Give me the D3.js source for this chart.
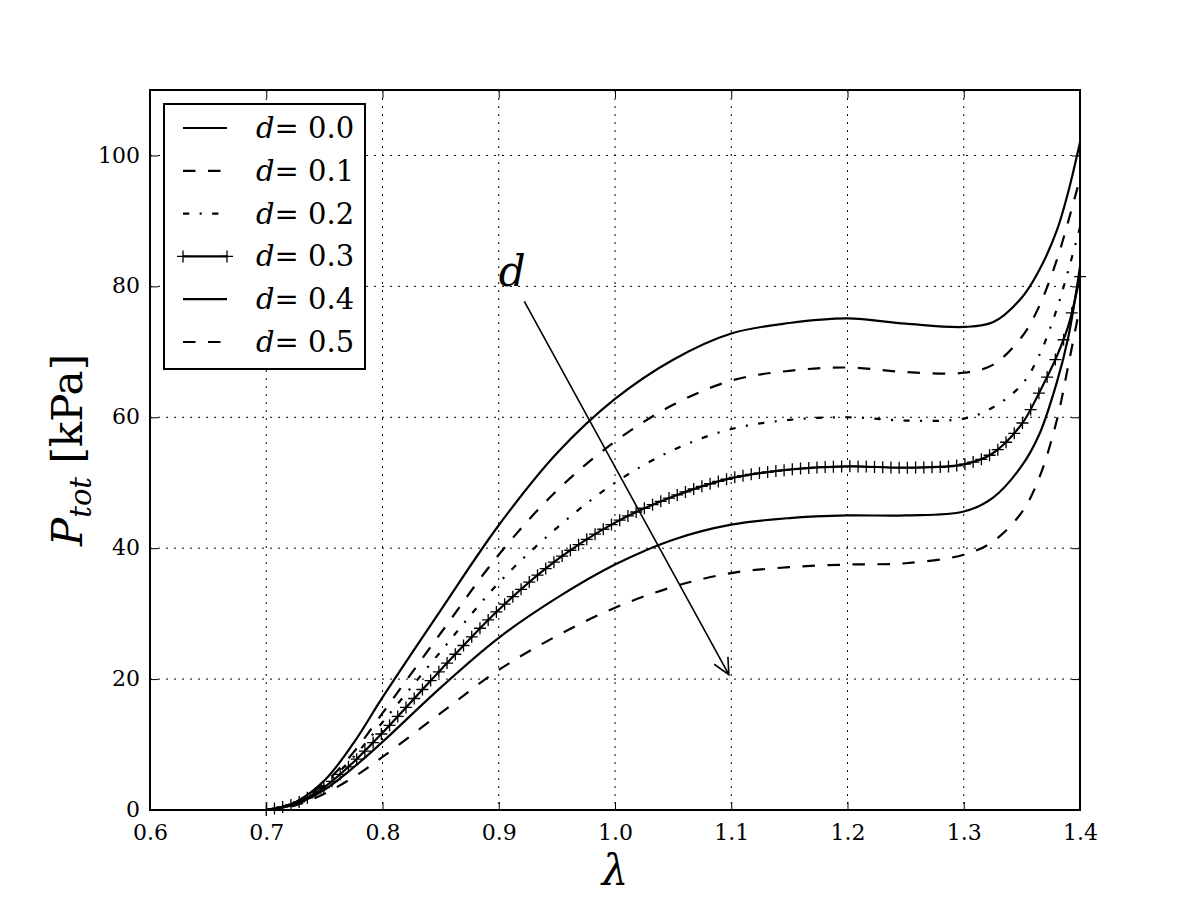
<!DOCTYPE html>
<html>
<head>
<meta charset="utf-8">
<script src="https://cdn.jsdelivr.net/npm/d3@7"></script>
<style>
  body { margin: 0; background: #fff; }
  text { font-family: "DejaVu Serif", "Liberation Serif", serif; fill: #000; }
</style>
</head>
<body>
<svg id="sg"></svg>
<script>
const lambdas = [0.70, 0.725, 0.75, 0.775, 0.80, 0.85, 0.90, 0.95, 1.00, 1.05, 1.10,
  1.15, 1.20, 1.25, 1.30, 1.325, 1.35, 1.365, 1.38, 1.39, 1.40];

// total pressure [kPa] for each damage value d
const pD00 = [0, 1.2, 4.5, 10.2, 17.2, 30.5, 43.5, 54.5, 62.8, 68.8, 72.8,
  74.4, 75.1, 74.3, 73.8, 74.5, 78.3, 82.5, 88.5, 94.5, 102.0];
const pD01 = [0, 1.1, 4.1, 8.8, 14.8, 27.0, 39.0, 48.8, 56.3, 61.9, 65.6,
  67.1, 67.6, 66.9, 66.8, 68.0, 72.3, 77.0, 84.0, 90.0, 96.5];
const pD02 = [0, 1.0, 3.8, 8.1, 13.4, 24.2, 34.7, 43.1, 50.0, 55.0, 58.2,
  59.6, 60.0, 59.5, 59.8, 61.5, 65.0, 69.5, 76.5, 82.5, 89.0];
const pD03 = [0, 1.0, 3.5, 7.3, 11.8, 21.4, 30.6, 38.2, 43.9, 47.9, 50.7,
  52.0, 52.5, 52.3, 52.8, 54.5, 59.0, 63.8, 69.3, 74.0, 81.5];
const pD04 = [0, 0.9, 3.1, 6.5, 10.4, 18.7, 26.3, 32.4, 37.5, 41.3, 43.6,
  44.6, 45.0, 45.0, 45.6, 47.7, 52.6, 57.4, 65.3, 72.3, 83.0];
const pD05 = [0, 0.7, 2.5, 5.0, 8.1, 14.8, 21.4, 26.6, 30.9, 34.1, 36.2,
  37.1, 37.5, 37.7, 39.0, 41.0, 45.5, 50.8, 59.5, 68.0, 77.0];

const dLabels = ["0.0", "0.1", "0.2", "0.3", "0.4", "0.5"];
const xTicks = [0.6, 0.7, 0.8, 0.9, 1.0, 1.1, 1.2, 1.3, 1.4];
const yTicks = [0, 20, 40, 60, 80, 100];

// annotation "d" with arrow
const annText = [0.9, 80];
const arrowFrom = [0.922, 77.7];
const arrowTo = [1.1, 20];

const series = [
  { label: dLabels[0], values: pD00, dash: null, marker: false },
  { label: dLabels[1], values: pD01, dash: "12.5,12.5", marker: false },
  { label: dLabels[2], values: pD02, dash: "6.25,10.4,2.1,10.4", marker: false },
  { label: dLabels[3], values: pD03, dash: null, marker: true },
  { label: dLabels[4], values: pD04, dash: null, marker: false },
  { label: dLabels[5], values: pD05, dash: "12.5,12.5", marker: false }
];

let svgWidth = 1200, svgHeight = 900;
let margin = { top: 90, right: 120, bottom: 90, left: 150 };
let width = svgWidth - margin.left - margin.right;
let height = svgHeight - margin.top - margin.bottom;

let svg = d3.select("#sg").attr("width", svgWidth).attr("height", svgHeight);
let g = svg.append("g")
  .attr("transform", "translate(" + margin.left + "," + margin.top + ")");

let x = d3.scaleLinear().domain([0.6, 1.4]).range([0, width]);
let y = d3.scaleLinear().domain([0, 110]).range([height, 0]);

// dotted grid
g.append("g").selectAll("line").data(xTicks.slice(1, -1)).join("line")
  .attr("x1", d => x(d)).attr("x2", d => x(d))
  .attr("y1", 0).attr("y2", height)
  .attr("stroke", "#000").attr("stroke-width", 1).attr("stroke-dasharray", "2,6");
g.append("g").selectAll("line").data(yTicks.slice(1)).join("line")
  .attr("y1", d => y(d)).attr("y2", d => y(d))
  .attr("x1", 0).attr("x2", width)
  .attr("stroke", "#000").attr("stroke-width", 1).attr("stroke-dasharray", "2,6");

// axes with inward ticks on all four sides
let tickLen = 8;
let xAxis = d3.axisBottom(x).tickValues(xTicks).tickFormat(d3.format(".1f"))
  .tickSizeInner(-tickLen).tickSizeOuter(0).tickPadding(14);
let yAxis = d3.axisLeft(y).tickValues(yTicks).tickFormat(d3.format("d"))
  .tickSizeInner(-tickLen).tickSizeOuter(0).tickPadding(10);

let gx = g.append("g").attr("transform", "translate(0," + height + ")").call(xAxis);
let gy = g.append("g").call(yAxis);
g.append("g").call(d3.axisTop(x).tickValues(xTicks).tickFormat("")
  .tickSizeInner(-tickLen).tickSizeOuter(0));
g.append("g").attr("transform", "translate(" + width + ",0)")
  .call(d3.axisRight(y).tickValues(yTicks).tickFormat("")
  .tickSizeInner(-tickLen).tickSizeOuter(0));
g.selectAll(".domain").remove();
g.selectAll(".tick line").attr("stroke", "#000").attr("stroke-width", 1);
gx.selectAll("text").style("font-size", "22px").style("font-family", "DejaVu Serif");
gy.selectAll("text").style("font-size", "22px").style("font-family", "DejaVu Serif")
  .attr("dy", "0.3em");

// curves
let line = d3.line()
  .x(function(d) { return x(d[0]); })
  .y(function(d) { return y(d[1]); })
  .curve(d3.curveCatmullRom.alpha(0.5));

let curves = g.append("g");
series.forEach(function(s) {
  let pts = lambdas.map((l, i) => [l, s.values[i]]);
  let path = curves.append("path")
    .datum(pts)
    .attr("fill", "none")
    .attr("stroke", "#000")
    .attr("stroke-width", 2.2)
    .attr("stroke-dasharray", s.dash)
    .attr("d", line);
  if (s.marker) {
    // "+" markers placed along the drawn curve at even lambda spacing
    let node = path.node();
    let total = node.getTotalLength();
    let nMarks = 100;
    let marks = [];
    for (let k = 0; k < nMarks; k++) {
      let px = x(lambdas[0]) + k * (x(lambdas[lambdas.length - 1]) - x(lambdas[0])) / (nMarks - 1);
      let lo = 0, hi = total, p;
      for (let it = 0; it < 40; it++) {
        let mid = (lo + hi) / 2;
        p = node.getPointAtLength(mid);
        if (p.x < px) lo = mid; else hi = mid;
      }
      marks.push([p.x, p.y]);
    }
    curves.append("g").selectAll("path").data(marks).join("path")
      .attr("d", d => "M" + (d[0] - 6) + "," + d[1] + "h12M" + d[0] + "," + (d[1] - 6) + "v12")
      .attr("stroke", "#000").attr("stroke-width", 1.3).attr("fill", "none");
  }
});

// frame
g.append("rect").attr("x", 0).attr("y", 0).attr("width", width).attr("height", height)
  .attr("fill", "none").attr("stroke", "#000").attr("stroke-width", 2);

// annotation
g.append("text")
  .attr("x", x(annText[0])).attr("y", y(annText[1]))
  .style("font-size", "42px").style("font-style", "italic").text("d");
let ax0 = x(arrowFrom[0]), ay0 = y(arrowFrom[1]);
let ax1 = x(arrowTo[0]), ay1 = y(arrowTo[1]);
let ang = Math.atan2(ay1 - ay0, ax1 - ax0);
let shrink = 5;
ax1 -= shrink * Math.cos(ang); ay1 -= shrink * Math.sin(ang);
let headLen = 18, headAng = 0.45;
g.append("path")
  .attr("d", "M" + ax0 + "," + ay0 + "L" + ax1 + "," + ay1 +
    "M" + (ax1 - headLen * Math.cos(ang - headAng)) + "," + (ay1 - headLen * Math.sin(ang - headAng)) +
    "L" + ax1 + "," + ay1 +
    "L" + (ax1 - headLen * Math.cos(ang + headAng)) + "," + (ay1 - headLen * Math.sin(ang + headAng)))
  .attr("fill", "none").attr("stroke", "#000").attr("stroke-width", 1.6);

// axis labels
svg.append("text")
  .attr("x", margin.left + width / 2).attr("y", 885)
  .attr("text-anchor", "middle")
  .style("font-size", "42px").style("font-style", "italic").text("λ");

let yl = svg.append("text")
  .attr("transform", "translate(82," + (margin.top + height / 2) + ") rotate(-90)")
  .attr("text-anchor", "middle")
  .style("font-size", "42px");
yl.append("tspan").style("font-style", "italic").text("P");
yl.append("tspan").style("font-style", "italic").style("font-size", "29px")
  .attr("dy", 9).text("tot");
yl.append("tspan").attr("dy", -9).text(" [kPa]");

// legend
let legend = svg.append("g").attr("transform", "translate(164,104)");
legend.append("rect").attr("width", 201).attr("height", 265)
  .attr("fill", "#fff").attr("stroke", "#000").attr("stroke-width", 2);
series.forEach(function(s, i) {
  let cy = 24 + i * 42.8;
  let row = legend.append("g").attr("transform", "translate(0," + cy + ")");
  row.append("line").attr("x1", 19).attr("x2", 63).attr("y1", 0).attr("y2", 0)
    .attr("stroke", "#000").attr("stroke-width", 2.2).attr("stroke-dasharray", s.dash);
  if (s.marker) {
    [19, 63].forEach(function(mx) {
      row.append("path").attr("d", "M" + (mx - 6) + ",0h12M" + mx + ",-6v12")
        .attr("stroke", "#000").attr("stroke-width", 1.3);
    });
  }
  let t = row.append("text").attr("x", 92).attr("y", 10).style("font-size", "29px");
  t.append("tspan").style("font-style", "italic").text("d");
  t.append("tspan").text("= " + s.label);
});
</script>
</body>
</html>
